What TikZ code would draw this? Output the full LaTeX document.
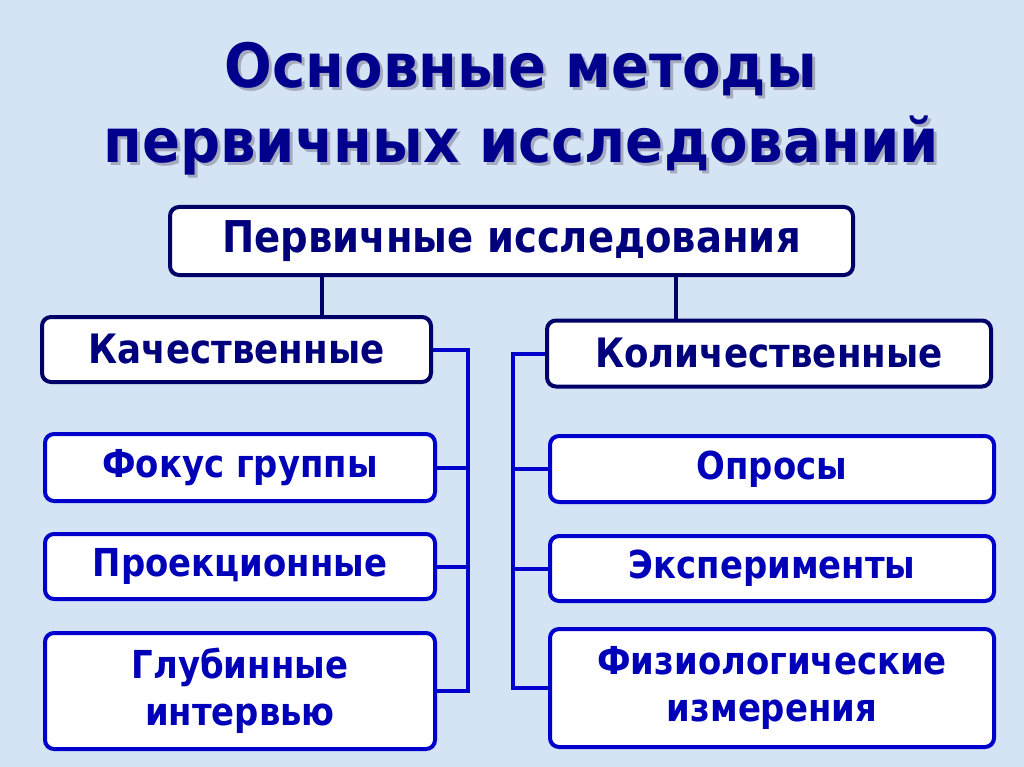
\documentclass[tikz,border=0pt]{standalone}
\usepackage{fontspec}
\newfontfamily\bfont{DejaVu Sans}[FakeStretch=0.88]
\newfontfamily\tfont{DejaVu Sans}[FakeStretch=0.92]
\definecolor{bg}{RGB}{212,228,245}
\definecolor{navy}{RGB}{0,0,105}
\definecolor{navytext}{RGB}{0,0,125}
\definecolor{blueb}{RGB}{0,0,205}
\definecolor{bluet}{RGB}{0,0,185}
\definecolor{titlec}{RGB}{0,0,140}
\definecolor{shadowc}{RGB}{165,170,190}
\newcommand\shadowtext[1]{\makebox[0pt][l]{\hspace{3pt}\raisebox{-3pt}{\textcolor{shadowc}{#1}}}#1}
\tikzset{
  box/.style={draw, rounded corners=9pt, line width=4pt, fill=white, inner sep=0pt, align=center},
  topbox/.style={box, draw=navy, text=navytext, font=\bfont\bfseries\fontsize{40.5}{47}\selectfont},
  subbox/.style={box, draw=blueb, text=bluet, font=\bfont\bfseries\fontsize{38.5}{47}\selectfont},
  ttl/.style={anchor=base, inner sep=0pt, text=titlec, font=\tfont\bfseries\fontsize{61}{70}\selectfont},
  navyline/.style={draw=navy, line width=4pt},
  blueline/.style={draw=blueb, line width=4pt, line join=miter},
}
\begin{document}
\begin{tikzpicture}[x=1pt,y=-1pt]
\fill[bg] (0,0) rectangle (1024,767);
\useasboundingbox (0,0) rectangle (1024,767);
% title
\node[ttl] (t1) at (521,88) {\shadowtext{Основные методы}};
\node[ttl] (t2) at (521,163) {\shadowtext{первичных исследований}};
% boxes
\node[topbox, minimum width=683pt, minimum height=68pt, font=\bfont\bfseries\fontsize{43.8}{50}\selectfont] (top) at (511.5,241) {Первичные исследования};
\node[topbox, minimum width=389pt, minimum height=65pt] (qual) at (236.5,349.5) {Качественные};
\node[topbox, minimum width=444pt, minimum height=66pt] (quant) at (769,353.5) {Количественные};
\node[subbox, minimum width=390pt, minimum height=67pt] (focus) at (240,467.5) {Фокус группы};
\node[subbox, minimum width=390pt, minimum height=65pt] (proj) at (240,566.5) {Проекционные};
\node[subbox, minimum width=390pt, minimum height=116pt] (deep) at (240,691) {Глубинные\\интервью};
\node[subbox, minimum width=444pt, minimum height=66pt] (survey) at (772,469) {Опросы};
\node[subbox, minimum width=444pt, minimum height=65pt] (exp) at (772,568.5) {Эксперименты};
\node[subbox, minimum width=444pt, minimum height=118pt] (phys) at (772,688) {Физиологические\\измерения};
% connectors
\coordinate (c1) at (322,0);
\coordinate (c2) at (676,0);
\coordinate (lb) at (468,0);
\coordinate (rb) at (513,0);
\draw[navyline] (c1 |- top.south) -- (c1 |- qual.north);
\draw[navyline] (c2 |- top.south) -- (c2 |- quant.north);
\draw[blueline] (qual.east) -- (lb |- qual.east) -- (lb |- deep.east) -- (deep.east);
\draw[blueline] (focus.east) -- (lb |- focus.east);
\draw[blueline] (proj.east) -- (lb |- proj.east);
\draw[blueline] (quant.west) -- (rb |- quant.west) -- (rb |- phys.west) -- (phys.west);
\draw[blueline] (survey.west) -- (rb |- survey.west);
\draw[blueline] (exp.west) -- (rb |- exp.west);
\end{tikzpicture}
\end{document}
